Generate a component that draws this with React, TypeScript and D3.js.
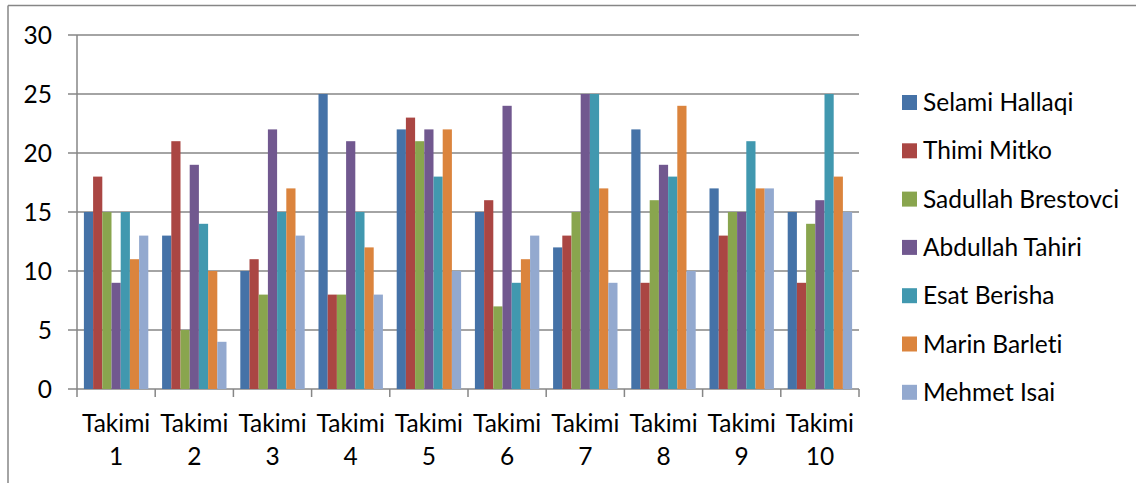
import * as d3 from 'd3';

const categories = ['1', '2', '3', '4', '5', '6', '7', '8', '9', '10'];

const seriesNames = [
  'Selami Hallaqi',
  'Thimi Mitko',
  'Sadullah Brestovci',
  'Abdullah Tahiri',
  'Esat Berisha',
  'Marin Barleti',
  'Mehmet Isai',
];

const selamiHallaqi = [15, 13, 10, 25, 22, 15, 12, 22, 17, 15];
const thimiMitko = [18, 21, 11, 8, 23, 16, 13, 9, 13, 9];
const sadullahBrestovci = [15, 5, 8, 8, 21, 7, 15, 16, 15, 14];
const abdullahTahiri = [9, 19, 22, 21, 22, 24, 25, 19, 15, 16];
const esatBerisha = [15, 14, 15, 15, 18, 9, 25, 18, 21, 25];
const marinBarleti = [11, 10, 17, 12, 22, 11, 17, 24, 17, 18];
const mehmetIsai = [13, 4, 13, 8, 10, 13, 9, 10, 17, 15];

const seriesValues = [
  selamiHallaqi,
  thimiMitko,
  sadullahBrestovci,
  abdullahTahiri,
  esatBerisha,
  marinBarleti,
  mehmetIsai,
];

const yTicks = [0, 5, 10, 15, 20, 25, 30];

const colors = ['#4572A7', '#AA4643', '#89A54E', '#71588F', '#4198AF', '#DB843D', '#93A9CF'];

const width = 1136;
const height = 483;
const margin = { top: 35, right: 277, bottom: 94, left: 77 };
const gridColor = '#868686';
const font = 'Lato, Calibri, sans-serif';
const fontSize = 24.5;

export default function App() {
  const x = d3
    .scaleBand<string>()
    .domain(categories)
    .range([margin.left, width - margin.right])
    .padding(0);

  // 7 bars per group, 150% gap split on both sides
  const xInner = d3
    .scaleBand<number>()
    .domain(d3.range(seriesNames.length))
    .range([0, x.bandwidth()])
    .paddingInner(0)
    .paddingOuter(0.75);

  const y = d3
    .scaleLinear()
    .domain([0, 30])
    .range([height - margin.bottom, margin.top]);

  const plotRight = width - margin.right;
  const baseY = y(0);

  return (
    <svg
      width={width}
      height={height}
      style={{
        position: 'absolute',
        left: 0,
        top: 0,
        background: '#fff',
        fontVariantLigatures: 'none',
        fontFeatureSettings: '"liga" 0, "clig" 0, "dlig" 0',
      }}
      fontFamily={font}
    >
      {/* outer chart frame */}
      <line x1={8} x2={8} y1={5.5} y2={height} stroke={gridColor} strokeWidth={1.5} />
      <line x1={8} x2={width} y1={5.5} y2={5.5} stroke={gridColor} strokeWidth={1.5} />

      {/* gridlines + y ticks */}
      {yTicks.map((t) => (
        <g key={t}>
          <line x1={68} x2={plotRight} y1={y(t)} y2={y(t)} stroke={gridColor} strokeWidth={1.5} />
          <text x={52} y={y(t)} dy="0.35em" textAnchor="end" fontSize={fontSize} fill="#000">
            {t}
          </text>
        </g>
      ))}

      {/* bars */}
      {categories.map((c, ci) => (
        <g key={c} transform={`translate(${x(c)},0)`}>
          {seriesValues.map((vals, si) => (
            <rect
              key={si}
              x={xInner(si)}
              y={y(vals[ci])}
              width={xInner.bandwidth()}
              height={baseY - y(vals[ci])}
              fill={colors[si]}
            />
          ))}
        </g>
      ))}

      {/* y axis line */}
      <line x1={margin.left} x2={margin.left} y1={margin.top} y2={baseY} stroke={gridColor} strokeWidth={1.5} />

      {/* x tick marks at category boundaries */}
      {[...categories.map((c) => x(c) ?? 0), plotRight].map((xx, i) => (
        <line key={i} x1={xx} x2={xx} y1={baseY} y2={baseY + 8} stroke={gridColor} strokeWidth={1.5} />
      ))}

      {/* x labels */}
      {categories.map((c) => (
        <text key={c} textAnchor="middle" fontSize={fontSize} fill="#000">
          <tspan x={(x(c) ?? 0) + x.bandwidth() / 2} y={432}>
            Takimi
          </tspan>
          <tspan x={(x(c) ?? 0) + x.bandwidth() / 2} y={465}>
            {c}
          </tspan>
        </text>
      ))}

      {/* legend */}
      {seriesNames.map((name, i) => {
        const cy = 102.5 + i * 48.3;
        return (
          <g key={name}>
            <rect x={902} y={cy - 7.5} width={15} height={15} fill={colors[i]} />
            <text x={923} y={cy} dy="0.35em" fontSize={fontSize} fill="#000">
              {name}
            </text>
          </g>
        );
      })}
    </svg>
  );
}
